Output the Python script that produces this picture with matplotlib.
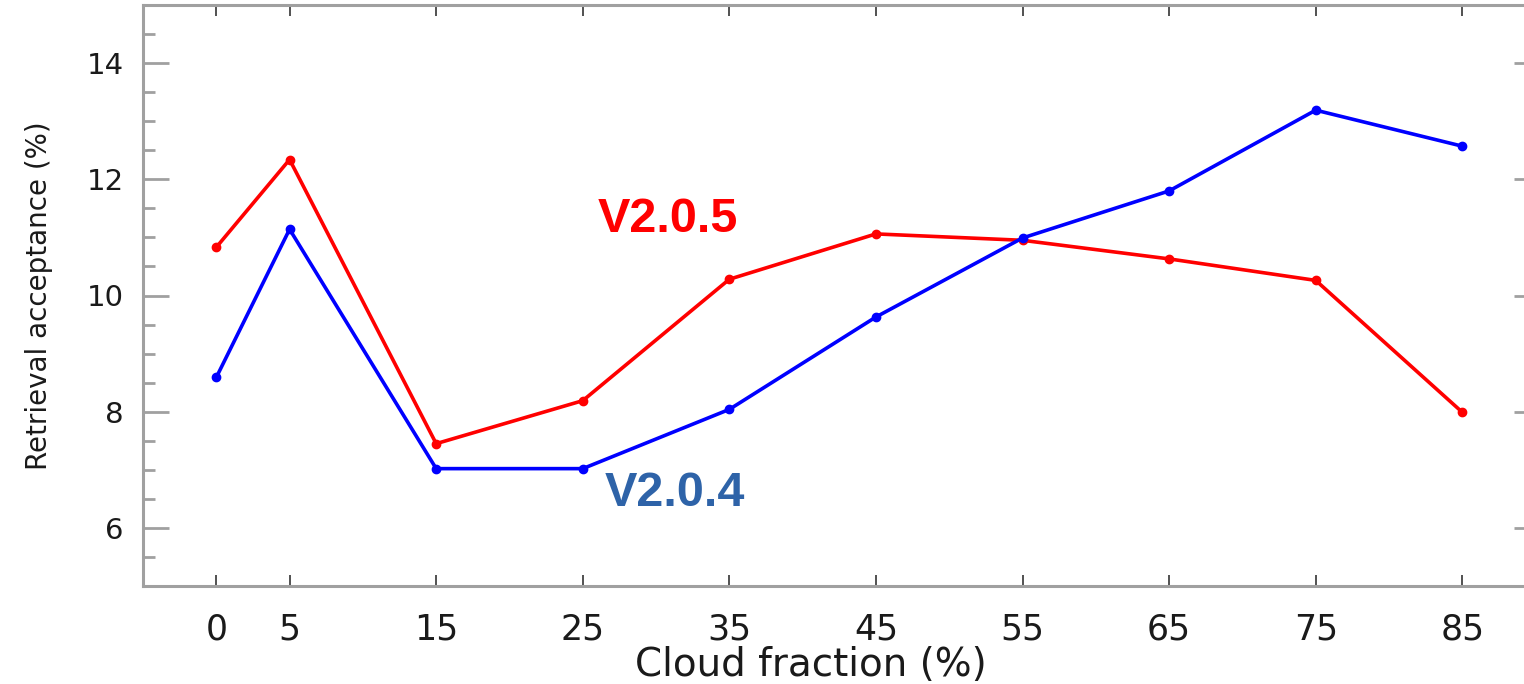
import matplotlib
matplotlib.use("Agg")
import matplotlib.pyplot as plt
from matplotlib.ticker import MultipleLocator

cloud_fraction = [0, 5, 15, 25, 35, 45, 55, 65, 75, 85]
v205 = [10.83, 12.34, 7.45, 8.19, 10.28, 11.06, 10.95, 10.63, 10.26, 7.99]
v204 = [8.59, 11.14, 7.02, 7.02, 8.04, 9.63, 10.99, 11.80, 13.19, 12.57]
xtick_labels = ["0", "5", "15", "25", "35", "45", "55", "65", "75", "85"]
yticks = [6, 8, 10, 12, 14]

plt.rcParams['font.family'] = ['DejaVu Sans']

W, H = 1524, 684
fig = plt.figure(figsize=(W/100, H/100), dpi=100)
ax = fig.add_axes([143/W, 1-586/H, (1540-143)/W, (586-5)/H])

ax.plot(cloud_fraction, v205, color='#ff0000', lw=2.6, marker='o', ms=6, zorder=3)
ax.plot(cloud_fraction, v204, color='#0000ff', lw=2.6, marker='o', ms=6, zorder=3)

ax.set_xlim(-5, 90.3)
ax.set_ylim(5, 15)
ax.set_xticks(cloud_fraction)
ax.set_xticklabels(xtick_labels)
ax.set_yticks(yticks)
ax.yaxis.set_minor_locator(MultipleLocator(0.5))

spine_col = '#a0a0a0'
for s in ax.spines.values():
    s.set_color(spine_col)
    s.set_linewidth(2.2)

ax.tick_params(axis='y', which='major', direction='in', length=19, width=2.0,
               color=spine_col, left=True, right=True, labelsize=21, pad=14,
               labelcolor='#1a1a1a')
ax.tick_params(axis='y', which='minor', direction='in', length=8.5, width=2.0,
               color=spine_col, left=True, right=True)
ax.tick_params(axis='x', which='major', direction='in', length=8, width=1.2,
               color='#333333', top=True, bottom=True, labelsize=25, pad=19,
               labelcolor='#1a1a1a')

ax.set_xlabel('Cloud fraction (%)', fontsize=28, color='#1a1a1a')
ax.xaxis.set_label_coords((811-143)/(1540-143), -(665-586)/(586-5), transform=ax.transAxes)
ax.xaxis.label.set_va('center')
ax.set_ylabel('Retrieval acceptance (%)', fontsize=20, color='#1a1a1a', labelpad=24)

ax.text(668/W, 1-220/H, 'V2.0.5', transform=fig.transFigure, fontsize=35,
        fontweight='bold', color='#ff0000', family='Liberation Sans',
        ha='center', va='center')
ax.text(675/W, 1-494/H, 'V2.0.4', transform=fig.transFigure, fontsize=35,
        fontweight='bold', color='#2e63a8', family='Liberation Sans',
        ha='center', va='center')

fig.savefig('out.png', dpi=100)
